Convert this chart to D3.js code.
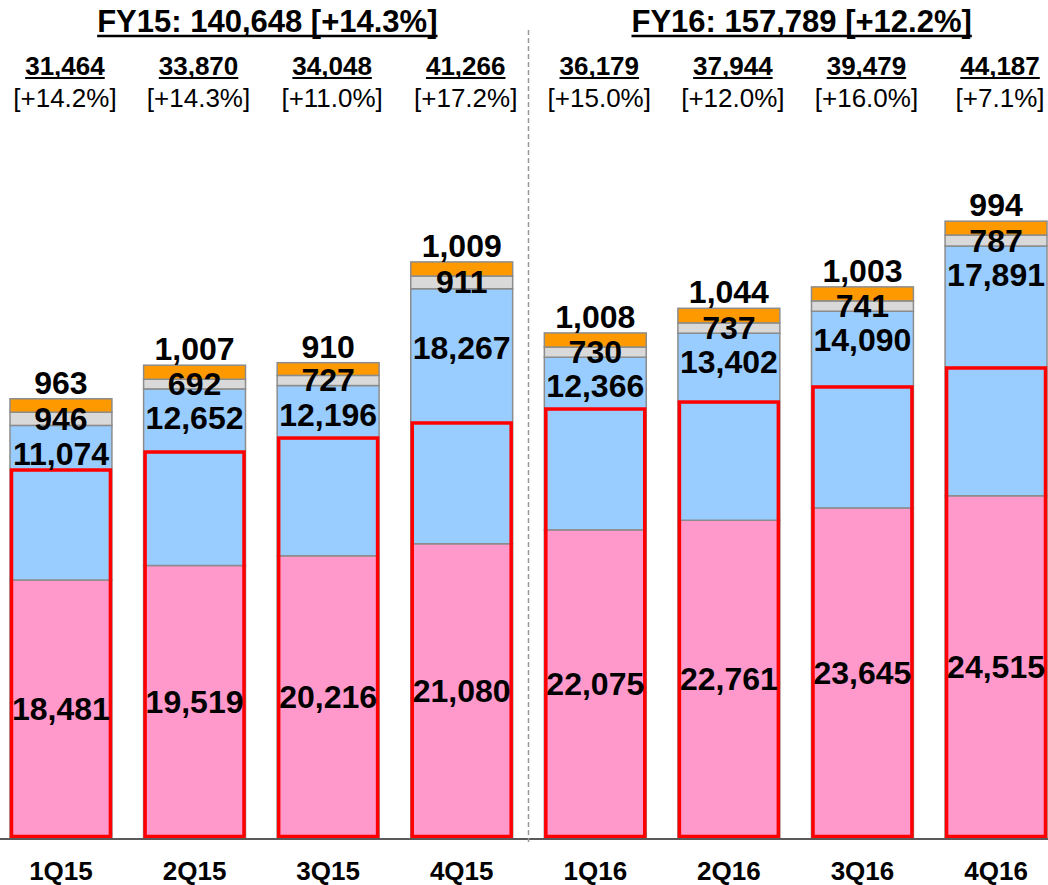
<!DOCTYPE html>
<html>
<head>
<meta charset="utf-8">
<script src="https://cdn.jsdelivr.net/npm/d3@7"></script>
<style>
  body { margin: 0; background: #fff; }
  text { font-family: "Liberation Sans", Arial, sans-serif; fill: #000; }
</style>
</head>
<body>
<svg id="chart" width="1048" height="885"></svg>
<script>
// quarter data
const quarters = ['1Q15', '2Q15', '3Q15', '4Q15', '1Q16', '2Q16', '3Q16', '4Q16'];
const pinkValues = [18481, 19519, 20216, 21080, 22075, 22761, 23645, 24515];
const blueValues = [11074, 12652, 12196, 18267, 12366, 13402, 14090, 17891];
const grayValues = [946, 692, 727, 911, 730, 737, 741, 787];
const orangeValues = [963, 1007, 910, 1009, 1008, 1044, 1003, 994];
// height of the red outlined box (estimated)
const redBoxValues = [26360, 27650, 28650, 29730, 30730, 31230, 32310, 33670];
const totalLabels = ['31,464', '33,870', '34,048', '41,266', '36,179', '37,944', '39,479', '44,187'];
const growthLabels = ['[+14.2%]', '[+14.3%]', '[+11.0%]', '[+17.2%]', '[+15.0%]', '[+12.0%]', '[+16.0%]', '[+7.1%]'];
const yearLabels = ['FY15: 140,648 [+14.3%]', 'FY16: 157,789 [+12.2%]'];

const keys = ['pink', 'blue', 'gray', 'orange'];
const colors = {pink: '#FF99CC', blue: '#99CCFF', gray: '#D9D9D9', orange: '#FF9900'};

const rows = quarters.map((q, i) => ({
  q, pink: pinkValues[i], blue: blueValues[i], gray: grayValues[i], orange: orangeValues[i],
  red: redBoxValues[i], total: totalLabels[i], growth: growthLabels[i]
}));

const svg = d3.select('#chart');
const baseY = 838;

const x = d3.scaleBand().domain(quarters).range([10, 1047])
    .paddingInner(0.237).paddingOuter(0);
const y = d3.scaleLinear().domain([0, 60030]).range([baseY, 0]);
const bw = x.bandwidth();

const series = d3.stack().keys(keys)(rows);

// stacked segments
svg.append('g').selectAll('g')
  .data(series)
  .join('g')
    .attr('fill', d => colors[d.key])
  .selectAll('rect')
  .data(d => d)
  .join('rect')
    .attr('x', d => x(d.data.q))
    .attr('y', d => y(d[1]))
    .attr('width', bw)
    .attr('height', d => y(d[0]) - y(d[1]))
    .attr('stroke', '#8c8c8c')
    .attr('stroke-width', 1.5);

// red outlined boxes
svg.append('g').selectAll('rect')
  .data(rows)
  .join('rect')
    .attr('x', d => x(d.q) + 1.5)
    .attr('y', d => y(d.red))
    .attr('width', bw - 3)
    .attr('height', d => y(0) - y(d.red) - 1.5)
    .attr('fill', 'none')
    .attr('stroke', '#FF0000')
    .attr('stroke-width', 3.5);

// baseline
svg.append('line')
    .attr('x1', 0).attr('x2', 1048)
    .attr('y1', baseY + 1).attr('y2', baseY + 1)
    .attr('stroke', '#5a5a5a').attr('stroke-width', 2);

// dashed divider between the two years
const divX = (x('4Q15') + bw + x('1Q16')) / 2;
svg.append('line')
    .attr('x1', divX).attr('x2', divX)
    .attr('y1', 30).attr('y2', baseY + 4)
    .attr('stroke', '#999').attr('stroke-width', 1.5)
    .attr('stroke-dasharray', '5,3');

// x axis labels
const xAxis = d3.axisBottom(x).tickSize(0).tickPadding(24);
const gx = svg.append('g').attr('transform', `translate(0,${baseY})`).call(xAxis);
gx.select('.domain').remove();
gx.selectAll('text')
    .attr('font-family', '"Liberation Sans", Arial, sans-serif')
    .attr('font-size', 26).attr('font-weight', 'bold').attr('fill', '#000');

// value labels on the bars
const labels = svg.append('g')
    .attr('font-size', 32).attr('font-weight', 'bold').attr('text-anchor', 'middle');
const fmt = d3.format(',');
const cx = d => x(d.q) + bw / 2;
const blueDrop = q => q === '4Q15' ? 59 : 29;

labels.selectAll('.pinkLbl').data(rows).join('text')
    .attr('x', cx)
    .attr('y', d => (y(0) + y(d.pink)) / 2 + 11)
    .text(d => fmt(d.pink));
labels.selectAll('.blueLbl').data(rows).join('text')
    .attr('x', cx)
    .attr('y', d => y(d.pink + d.blue) + blueDrop(d.q) + 11)
    .text(d => fmt(d.blue));
labels.selectAll('.grayLbl').data(rows).join('text')
    .attr('x', cx)
    .attr('y', d => (y(d.pink + d.blue) + y(d.pink + d.blue + d.gray)) / 2 + 11)
    .text(d => fmt(d.gray));
labels.selectAll('.orangeLbl').data(rows).join('text')
    .attr('x', cx)
    .attr('y', d => y(d.pink + d.blue + d.gray + d.orange) - 5)
    .text(d => fmt(d.orange));

// underline helper
function underline(sel, dy, w) {
  sel.each(function() {
    const t = d3.select(this);
    const len = this.getComputedTextLength();
    const tx = +t.attr('x'), ty = +t.attr('y');
    svg.append('line')
        .attr('x1', tx - len / 2).attr('x2', tx + len / 2)
        .attr('y1', ty + dy).attr('y2', ty + dy)
        .attr('stroke', '#000').attr('stroke-width', w);
  });
}

// quarterly totals and growth
const headG = svg.append('g').attr('text-anchor', 'middle');
const totals = headG.selectAll('.tot').data(rows).join('text')
    .attr('x', d => cx(d) + 4).attr('y', 75)
    .attr('font-size', 26).attr('font-weight', 'bold')
    .text(d => d.total);
underline(totals, 3, 2);
headG.selectAll('.gr').data(rows).join('text')
    .attr('x', d => cx(d) + 4).attr('y', 107)
    .attr('font-size', 26)
    .text(d => d.growth);

// yearly headers
const groups = [quarters.slice(0, 4), quarters.slice(4)];
const years = headG.selectAll('.yr').data(yearLabels).join('text')
    .attr('x', (d, i) => d3.mean(groups[i], q => x(q) + bw / 2) + 6)
    .attr('y', 32)
    .attr('font-size', 31).attr('font-weight', 'bold')
    .text(d => d);
underline(years, 4, 2.5);
</script>
</body>
</html>
